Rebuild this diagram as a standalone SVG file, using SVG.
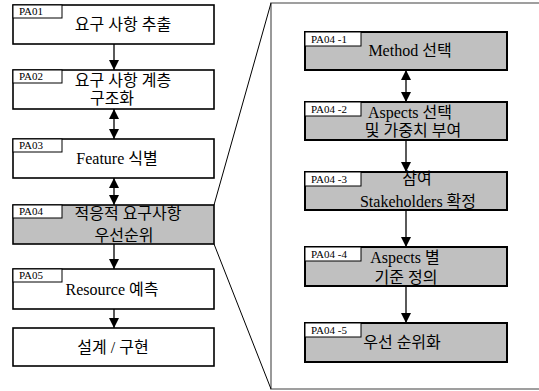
<svg xmlns="http://www.w3.org/2000/svg" width="539" height="391" viewBox="0 0 539 391">
<style>
.box{fill:#fff;stroke:#000;stroke-width:1.6}
.gbox{fill:#c0c0c0;stroke:#000;stroke-width:1.6}
.ibox{fill:#c0c0c0;stroke:#000;stroke-width:2}
.tab{fill:#fff;stroke:#000;stroke-width:1}
.tl{font-family:"Liberation Serif","Times New Roman","Noto Sans CJK KR",serif;font-size:11px;fill:#000}
.t{font-family:"Liberation Serif","Times New Roman","Noto Sans CJK KR",serif;font-size:16px;fill:#000;text-anchor:middle}
.c{stroke:#000;stroke-width:1.3;fill:none}
.frame{stroke:#808080;stroke-width:1.6;fill:none}
.zoom{stroke:#000;stroke-width:1;fill:none}
</style>
<defs>
<marker id="ah" viewBox="0 0 10 10" refX="10" refY="5" markerWidth="10" markerHeight="10" markerUnits="userSpaceOnUse" orient="auto-start-reverse">
<path d="M0,0 L10,5 L0,10 Z" fill="#000"/>
</marker>
</defs>
<g id="frame">
<path class="frame" d="M545,3 H271 V389 H545"/>
<line class="zoom" x1="214" y1="205" x2="271" y2="3"/>
<line class="zoom" x1="214" y1="244" x2="271" y2="389"/>
</g>
<g id="PA01">
<rect class="box" x="13" y="5" width="201" height="39"/>
<rect class="tab" x="13" y="5" width="49" height="13"/>
<text class="tl" x="19" y="15">PA01</text>
<text class="t" x="123" y="30">요구 사항 추출</text>
</g>
<g id="PA02">
<rect class="box" x="13" y="70" width="201" height="39"/>
<rect class="tab" x="13" y="70" width="49" height="13"/>
<text class="tl" x="19" y="80">PA02</text>
<text class="t" x="123" y="86">요구 사항 계층</text>
<text class="t" x="112" y="104">구조화</text>
</g>
<g id="PA03">
<rect class="box" x="13" y="139" width="201" height="39"/>
<rect class="tab" x="13" y="139" width="49" height="13"/>
<text class="tl" x="19" y="149">PA03</text>
<text class="t" x="117" y="164">Feature 식별</text>
</g>
<g id="PA04">
<rect class="gbox" x="13" y="205" width="201" height="39"/>
<rect class="tab" x="13" y="205" width="49" height="13"/>
<text class="tl" x="19" y="215">PA04</text>
<text class="t" x="128" y="219">적응적 요구사항</text>
<text class="t" x="124" y="241">우선순위</text>
</g>
<g id="PA05">
<rect class="box" x="13" y="269" width="201" height="40"/>
<rect class="tab" x="13" y="269" width="49" height="13"/>
<text class="tl" x="19" y="279">PA05</text>
<text class="t" x="112" y="295">Resource 예측</text>
</g>
<g id="impl">
<rect class="box" x="13" y="328" width="201" height="38"/>
<text class="t" x="113" y="353">설계 / 구현</text>
</g>
<g id="PA04-1">
<rect class="ibox" x="305" y="32" width="202" height="38"/>
<rect class="tab" x="305" y="32" width="56" height="14"/>
<text class="tl" x="311" y="43">PA04 -1</text>
<text class="t" x="410" y="56">Method 선택</text>
</g>
<g id="PA04-2">
<rect class="ibox" x="305" y="102" width="202" height="38"/>
<rect class="tab" x="305" y="102" width="56" height="14"/>
<text class="tl" x="311" y="113">PA04 -2</text>
<text class="t" x="410" y="118">Aspects 선택</text>
<text class="t" x="413" y="136">및 가중치 부여</text>
</g>
<g id="PA04-3">
<rect class="ibox" x="305" y="172" width="202" height="38"/>
<rect class="tab" x="305" y="172" width="56" height="14"/>
<text class="tl" x="311" y="183">PA04 -3</text>
<text class="t" x="417" y="184">참여</text>
<text class="t" x="418" y="207">Stakeholders 확정</text>
</g>
<g id="PA04-4">
<rect class="ibox" x="305" y="247" width="202" height="39"/>
<rect class="tab" x="305" y="247" width="56" height="14"/>
<text class="tl" x="311" y="258">PA04 -4</text>
<text class="t" x="405" y="263">Aspects 별</text>
<text class="t" x="406" y="283">기준 정의</text>
</g>
<g id="PA04-5">
<rect class="ibox" x="305" y="323" width="202" height="39"/>
<rect class="tab" x="305" y="323" width="56" height="14"/>
<text class="tl" x="311" y="334">PA04 -5</text>
<text class="t" x="402" y="348">우선 순위화</text>
</g>
<g id="connectors">
<line class="c" x1="114" y1="44" x2="114" y2="70" marker-end="url(#ah)"/>
<line class="c" x1="114" y1="109" x2="114" y2="139" marker-start="url(#ah)" marker-end="url(#ah)"/>
<line class="c" x1="114" y1="178" x2="114" y2="205" marker-start="url(#ah)" marker-end="url(#ah)"/>
<line class="c" x1="114" y1="244" x2="114" y2="269" marker-end="url(#ah)"/>
<line class="c" x1="114" y1="309" x2="114" y2="328" marker-end="url(#ah)"/>
<line class="c" x1="406" y1="70" x2="406" y2="102" marker-start="url(#ah)" marker-end="url(#ah)"/>
<line class="c" x1="406" y1="140" x2="406" y2="172" marker-end="url(#ah)"/>
<line class="c" x1="406" y1="210" x2="406" y2="247" marker-end="url(#ah)"/>
<line class="c" x1="406" y1="286" x2="406" y2="323" marker-end="url(#ah)"/>
</g>
</svg>
